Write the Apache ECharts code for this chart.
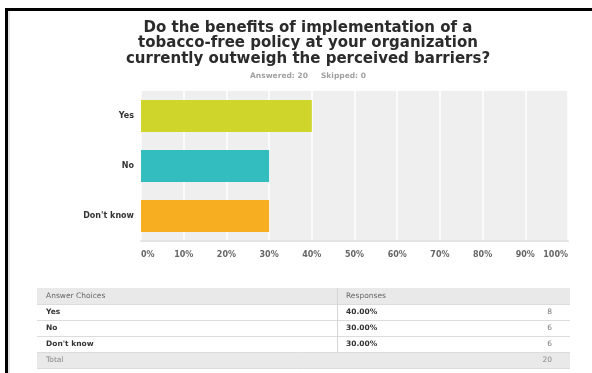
<!DOCTYPE html>
<html>
<head>
<meta charset="utf-8">
<script src="https://cdn.jsdelivr.net/npm/echarts@6/dist/echarts.min.js"></script>
<style>
  html, body { margin: 0; padding: 0; background: #ffffff; }
  #chart { width: 592px; height: 373px; }
</style>
</head>
<body>
<div id="chart"></div>
<script>
// Survey question and response summary
const questionTitle = 'Do the benefits of implementation of a\ntobacco-free policy at your organization\ncurrently outweigh the perceived barriers?';
const answered = 20;
const skipped = 0;

const categories = ['Yes', 'No', "Don't know"];
const percents = [40, 30, 30];
const counts = [8, 6, 6];
const barColors = ['#cfd52b', '#33bdbe', '#f7ae20'];
const tickLabels = ['0%', '10%', '20%', '30%', '40%', '50%', '60%', '70%', '80%', '90%', '100%'];

const FONT = '"DejaVu Sans", Arial, sans-serif';

const chart = echarts.init(document.getElementById('chart'), null, { renderer: 'canvas' });

// Summary table below the chart
function buildTable() {
  const left = 37, right = 570, divider = 337;
  const top = 288, rowH = 16;
  const els = [];
  const rows = categories.length;
  // header + total backgrounds
  els.push({ type: 'rect', shape: { x: left, y: top, width: right - left, height: rowH }, style: { fill: '#e9e9e9' }, silent: true });
  els.push({ type: 'rect', shape: { x: left, y: top + rowH * (rows + 1), width: right - left, height: rowH }, style: { fill: '#e9e9e9' }, silent: true });
  // row separators
  for (let i = 1; i <= rows + 2; i++) {
    const y = top + rowH * i + 0.5;
    els.push({ type: 'line', shape: { x1: left, y1: y, x2: right, y2: y }, style: { stroke: '#dcdcdc', lineWidth: 1 }, silent: true });
  }
  // column divider
  els.push({ type: 'line', shape: { x1: divider + 0.5, y1: top, x2: divider + 0.5, y2: top + rowH * (rows + 1) }, style: { stroke: '#d6d6d6', lineWidth: 1 }, silent: true });

  const txt = (x, y, s, opts) => els.push({
    type: 'text', x: x, y: y, silent: true,
    style: Object.assign({ text: s, font: '7.5px ' + FONT, fill: '#666', textVerticalAlign: 'middle', verticalAlign: 'middle' }, opts || {})
  });
  const mid = (i) => top + rowH * i + rowH / 2;
  txt(46, mid(0), 'Answer Choices', { fill: '#666' });
  txt(346, mid(0), 'Responses', { fill: '#666' });
  categories.forEach((c, i) => {
    txt(46, mid(i + 1), c, { font: 'bold 7.5px ' + FONT, fill: '#333' });
    txt(346, mid(i + 1), percents[i].toFixed(2) + '%', { font: 'bold 7.5px ' + FONT, fill: '#333' });
    txt(552, mid(i + 1), String(counts[i]), { fill: '#777', align: 'right', textAlign: 'right' });
  });
  const total = counts.reduce((a, b) => a + b, 0);
  txt(46, mid(rows + 1), 'Total', { fill: '#888' });
  txt(552, mid(rows + 1), String(total), { fill: '#888', align: 'right', textAlign: 'right' });
  return els;
}

const option = {
  backgroundColor: '#ffffff',
  animation: false,
  title: [
    {
      text: questionTitle,
      left: 303, top: 15, textAlign: 'center',
      textStyle: { fontFamily: FONT, fontSize: 15, fontWeight: 'bold', color: '#2b2b2b', lineHeight: 15.5 }
    },
    {
      text: 'Answered: ' + answered + '     Skipped: ' + skipped,
      left: 303, top: 67, textAlign: 'center',
      textStyle: { fontFamily: FONT, fontSize: 7.5, fontWeight: 'bold', color: '#a0a0a0' }
    }
  ],
  grid: {
    left: 141, right: 24, top: 91, bottom: 132,
    show: true, backgroundColor: '#efefef', borderWidth: 0
  },
  xAxis: {
    type: 'value', min: 0, max: 100, interval: 10,
    axisLine: { show: true, lineStyle: { color: '#e4e4e4', width: 2 } },
    axisTick: { show: false },
    splitLine: { show: true, lineStyle: { color: '#ffffff', width: 1.5 } },
    axisLabel: {
      margin: 10, fontFamily: FONT, fontSize: 8, fontWeight: 'bold', color: '#666',
      alignMinLabel: 'left', alignMaxLabel: 'right',
      formatter: (v) => tickLabels[Math.round(v / 10)]
    }
  },
  yAxis: {
    type: 'category', data: categories, inverse: true,
    axisLine: { show: false }, axisTick: { show: false }, splitLine: { show: false },
    axisLabel: { margin: 7, fontFamily: FONT, fontSize: 8, fontWeight: 'bold', color: '#333' }
  },
  series: [{
    type: 'bar',
    barWidth: 32,
    data: percents.map((v, i) => ({ value: v, itemStyle: { color: barColors[i] } })),
    silent: true
  }],
  graphic: [
    { type: 'line', shape: { x1: 5, y1: 9.5, x2: 592, y2: 9.5 }, style: { stroke: '#000', lineWidth: 3 }, silent: true },
    { type: 'line', shape: { x1: 6.5, y1: 8, x2: 6.5, y2: 373 }, style: { stroke: '#000', lineWidth: 3 }, silent: true },
    { type: 'line', shape: { x1: 9, y1: 11, x2: 9, y2: 373 }, style: { stroke: '#dddddd', lineWidth: 1.5 }, silent: true },
    { type: 'group', children: buildTable() }
  ]
};

chart.setOption(option);
</script>
</body>
</html>
